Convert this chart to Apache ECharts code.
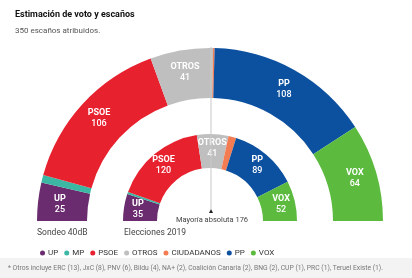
<!DOCTYPE html>
<html>
<head>
<meta charset="utf-8">
<script src="https://cdn.jsdelivr.net/npm/echarts@6/dist/echarts.min.js"></script>
<style>
  html, body { margin: 0; padding: 0; background: #fff; }
  #chart { width: 412px; height: 278px; }
</style>
</head>
<body>
<div id="chart"></div>
<script>
// partidos, de izquierda a derecha
const parties = ["UP", "MP", "PSOE", "OTROS", "CIUDADANOS", "PP", "VOX"];
const partyColors = ["#6b2c6f", "#3bb7a3", "#e8212f", "#bfbfbf", "#f47c52", "#0c50a0", "#5cbb3f"];
// escaños
const sondeo40dB = [25, 5, 106, 41, 1, 108, 64];
const elecciones2019 = [35, 3, 120, 41, 10, 89, 52];
const labelled = ["UP", "PSOE", "OTROS", "PP", "VOX"];
const totalSeats = 350;
const majority = 176;

const font = "Roboto, 'Liberation Sans', sans-serif";

/** construye los datos de un hemiciclo (con un relleno invisible abajo) */
const buildData = (values) => {
  const data = parties.map((name, i) => ({
    name,
    value: values[i],
    itemStyle: { color: partyColors[i] },
    label: { show: labelled.includes(name) },
  }));
  data.push({
    name: "_",
    value: totalSeats,
    itemStyle: { color: "transparent" },
    label: { show: false },
    emphasis: { disabled: true },
    tooltip: { show: false },
  });
  return data;
};

const pieSeries = (values, radius) => ({
  type: "pie",
  center: [210, 221],
  radius,
  startAngle: 180,
  clockwise: true,
  avoidLabelOverlap: false,
  labelLine: { show: false },
  itemStyle: { borderWidth: 0 },
  label: {
    position: "inside",
    formatter: (p) => "{n|" + p.name + "}\n{v|" + p.value + "}",
    rich: {
      n: { color: "#fff", fontWeight: "bold", fontSize: 9, fontFamily: font, lineHeight: 11 },
      v: { color: "#fff", fontWeight: 500, fontSize: 9, fontFamily: font, lineHeight: 11 },
    },
  },
  data: buildData(values),
});

const chart = echarts.init(document.getElementById("chart"));
chart.setOption({
  animation: false,
  title: [
    {
      text: "Estimación de voto y escaños",
      left: 10, top: 5,
      textStyle: { fontSize: 9, fontWeight: "bold", color: "#111", fontFamily: font },
    },
    {
      text: "350 escaños atribuidos.",
      left: 10, top: 22,
      textStyle: { fontSize: 8, fontWeight: "normal", color: "#555", fontFamily: font },
    },
  ],
  legend: {
    data: parties,
    left: 35, top: 244,
    icon: "circle",
    itemWidth: 5, itemHeight: 5, itemGap: 6,
    textStyle: { fontSize: 8, color: "#333", fontFamily: font, padding: [0, 0, 0, -2] },
  },
  series: [
    pieSeries(sondeo40dB, [123, 173]),
    pieSeries(elecciones2019, [53, 87]),
  ],
  graphic: [
    // línea de mayoría absoluta
    { type: "line", z: 100, shape: { x1: 211, y1: 47, x2: 211, y2: 209 }, style: { stroke: "#c8c8c8", lineWidth: 1 } },
    { type: "polygon", z: 100, shape: { points: [[211, 209], [209, 213], [213, 213]] }, style: { fill: "#222" } },
    {
      type: "text", z: 100, x: 212, y: 216,
      style: { text: "Mayoría absoluta " + majority, fontSize: 7.5, fill: "#444", fontFamily: font, align: "center" },
    },
    { type: "text", left: 37, top: 228, style: { text: "Sondeo 40dB", fontSize: 8.5, fill: "#444", fontFamily: font } },
    { type: "text", left: 124, top: 228, style: { text: "Elecciones 2019", fontSize: 8.5, fill: "#444", fontFamily: font } },
    // nota al pie
    { type: "rect", shape: { x: 0, y: 258, width: 412, height: 20 }, style: { fill: "#f3f3f3" } },
    {
      type: "text", left: 8, top: 265,
      style: {
        text: "* Otros incluye ERC (13), JxC (8), PNV (6), Bildu (4), NA+ (2), Coalición Canaria (2), BNG (2), CUP (1), PRC (1), Teruel Existe (1).",
        fontSize: 6.75, fill: "#777", fontFamily: font,
      },
    },
  ],
});
</script>
</body>
</html>
